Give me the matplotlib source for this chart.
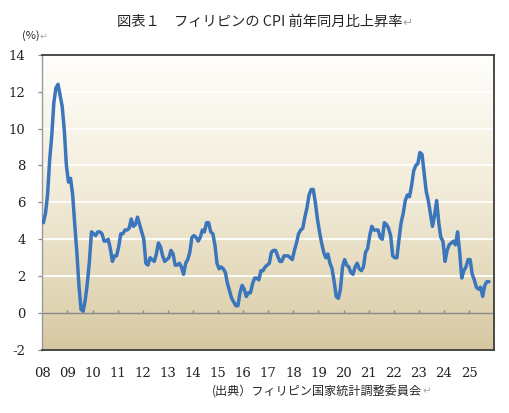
import numpy as np
import matplotlib
matplotlib.use("Agg")
import matplotlib.pyplot as plt
from matplotlib.colors import LinearSegmentedColormap

# Philippines CPI, year-on-year (%), monthly, Jan 2008 - Oct 2025
cpi_2008 = [4.9, 5.4, 6.4, 8.3, 9.6, 11.4, 12.2, 12.4, 11.8, 11.2, 9.9, 8.0]
cpi_2009 = [7.1, 7.3, 6.4, 4.8, 3.3, 1.5, 0.2, 0.1, 0.7, 1.6, 2.8, 4.4]
cpi_2010 = [4.3, 4.2, 4.4, 4.4, 4.3, 3.9, 3.9, 4.0, 3.5, 2.8, 3.1, 3.1]
cpi_2011 = [3.6, 4.3, 4.3, 4.5, 4.5, 4.6, 5.1, 4.7, 4.8, 5.2, 4.8, 4.4]
cpi_2012 = [4.0, 2.7, 2.6, 3.0, 2.9, 2.8, 3.2, 3.8, 3.6, 3.1, 2.8, 2.9]
cpi_2013 = [3.0, 3.4, 3.2, 2.6, 2.6, 2.7, 2.5, 2.1, 2.7, 2.9, 3.3, 4.1]
cpi_2014 = [4.2, 4.1, 3.9, 4.1, 4.5, 4.4, 4.9, 4.9, 4.4, 4.3, 3.7, 2.7]
cpi_2015 = [2.4, 2.5, 2.4, 2.2, 1.6, 1.2, 0.8, 0.6, 0.4, 0.4, 1.1, 1.5]
cpi_2016 = [1.3, 0.9, 1.1, 1.1, 1.6, 1.9, 1.9, 1.8, 2.3, 2.3, 2.5, 2.6]
cpi_2017 = [2.7, 3.3, 3.4, 3.4, 3.1, 2.8, 2.8, 3.1, 3.1, 3.1, 3.0, 2.9]
cpi_2018 = [3.4, 3.8, 4.3, 4.5, 4.6, 5.2, 5.7, 6.4, 6.7, 6.7, 6.0, 5.1]
cpi_2019 = [4.4, 3.8, 3.3, 3.0, 3.2, 2.7, 2.4, 1.7, 0.9, 0.8, 1.3, 2.5]
cpi_2020 = [2.9, 2.6, 2.5, 2.2, 2.1, 2.5, 2.7, 2.4, 2.3, 2.5, 3.3, 3.5]
cpi_2021 = [4.2, 4.7, 4.5, 4.5, 4.5, 4.1, 4.0, 4.9, 4.8, 4.6, 4.2, 3.1]
cpi_2022 = [3.0, 3.0, 4.0, 4.9, 5.4, 6.1, 6.4, 6.3, 6.9, 7.7, 8.0, 8.1]
cpi_2023 = [8.7, 8.6, 7.6, 6.6, 6.1, 5.4, 4.7, 5.3, 6.1, 4.9, 4.1, 3.9]
cpi_2024 = [2.8, 3.4, 3.7, 3.8, 3.9, 3.7, 4.4, 3.3, 1.9, 2.3, 2.5, 2.9]
cpi_2025 = [2.9, 2.1, 1.8, 1.4, 1.3, 1.4, 0.9, 1.5, 1.7, 1.7]

year_labels = ["08", "09", "10", "11", "12", "13", "14", "15", "16",
               "17", "18", "19", "20", "21", "22", "23", "24", "25"]
y_ticks = [-2, 0, 2, 4, 6, 8, 10, 12, 14]

cpi = (cpi_2008 + cpi_2009 + cpi_2010 + cpi_2011 + cpi_2012 + cpi_2013
       + cpi_2014 + cpi_2015 + cpi_2016 + cpi_2017 + cpi_2018 + cpi_2019
       + cpi_2020 + cpi_2021 + cpi_2022 + cpi_2023 + cpi_2024 + cpi_2025)
months = np.arange(len(cpi))
n_cat = 12 * len(year_labels)  # axis runs to Dec 2025

jp = ["Noto Sans CJK JP", "DejaVu Sans"]
num_font = "DejaVu Serif"

fig = plt.figure(figsize=(5.10, 4.13), dpi=100)
ax = fig.add_axes([0.083, 0.1525, 0.886, 0.715])

# background gradient (white at top, tan at bottom)
grad = LinearSegmentedColormap.from_list(
    "bg", [(0.0, "#d6c7a0"), (0.18, "#e1d6b6"), (0.55, "#f2ecda"), (1.0, "#fffefb")])
ax.imshow(np.linspace(0, 1, 256).reshape(-1, 1), cmap=grad, origin="lower",
          extent=[0, 1, 0, 1], transform=ax.transAxes, aspect="auto", zorder=0)

for v in y_ticks[2:-1]:
    ax.axhline(v, color="white", lw=1.3, zorder=1)
ax.axhline(0, color="#8a8a8a", lw=1.0, zorder=2)

year_pos = [-0.5 + 12 * k for k in range(len(year_labels) + 1)]
ax.vlines(year_pos[1:-1], 0, 0.17, color="#8a8a8a", lw=1.0, zorder=2)

ax.plot(months, cpi, color="#3b76bd", lw=2.5, solid_joinstyle="round",
        solid_capstyle="round", zorder=3)

ax.set_xlim(-0.5, n_cat - 0.5)
ax.set_ylim(-2, 14)

ax.set_yticks(y_ticks)
ax.set_yticklabels([str(v) for v in y_ticks], fontfamily=num_font, fontsize=9.5,
                   color="#222222")
ax.tick_params(axis="y", direction="out", length=3, width=0.9, color="#8a8a8a", pad=9)

ax.set_xticks(year_pos[:-1])
ax.set_xticklabels(year_labels, fontfamily=num_font, fontsize=9.5, color="#222222")
ax.tick_params(axis="x", length=0, pad=12)

for s in ["top", "right", "bottom"]:
    ax.spines[s].set_color("#3c3c3c")
    ax.spines[s].set_linewidth(1.3)
ax.spines["left"].set_color("#9a9a9a")
ax.spines["left"].set_linewidth(1.0)

# texts, each followed by a light grey paragraph mark
texts = [
    (0.2294, 0.9467, "図表１　フィリピンの CPI 前年同月比上昇率", 10.3),
    (0.0425, 0.9128, "(%)", 8),
    (0.4157, 0.0516, "(出典）フィリピン国家統計調整委員会", 8.7),
]
for x, y, s, size in texts:
    t = fig.text(x, y, s, ha="left", va="center", fontsize=size, family=jp,
                 color="#262626")
    ax.annotate("↵", xy=(1, 0.5), xycoords=t, ha="left", va="center",
                fontsize=size * 0.85, family=jp, color="#a8a8a8",
                annotation_clip=False)

fig.savefig("out.png", dpi=100)
